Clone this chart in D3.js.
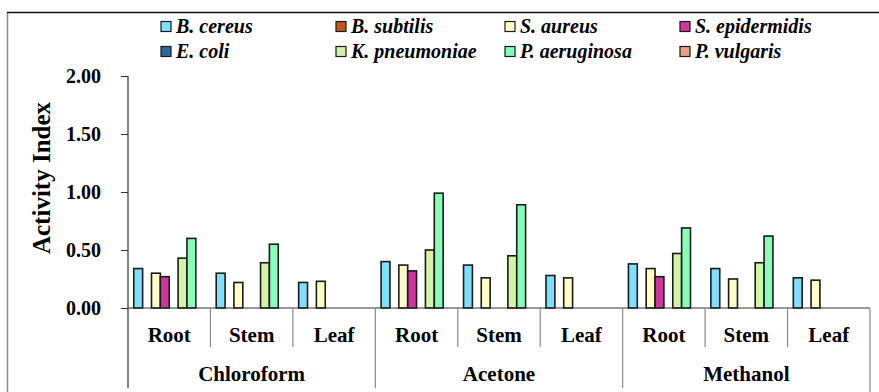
<!DOCTYPE html>
<html>
<head>
<meta charset="utf-8">
<script src="https://cdn.jsdelivr.net/npm/d3@7"></script>
<style>html,body{margin:0;background:#fff}</style>
</head>
<body>
<svg id="chart" width="879" height="392"></svg>
<script>
const solvents = ["Chloroform", "Acetone", "Methanol"];
const parts = ["Root", "Stem", "Leaf"];
const seriesNames = ["B. cereus", "B. subtilis", "S. aureus", "S. epidermidis",
                     "E. coli", "K. pneumoniae", "P. aeruginosa", "P. vulgaris"];
const seriesColors = ["#80DFFF", "#C0561F", "#FFFFC6", "#CF359C",
                      "#2F689E", "#D3F3A8", "#88FDB8", "#E6A082"];
// values per series, ordered Chloroform(Root,Stem,Leaf), Acetone(...), Methanol(...)
const bCereus      = [0.34, 0.30, 0.22, 0.40, 0.37, 0.28, 0.38, 0.34, 0.26];
const bSubtilis    = [0, 0, 0, 0, 0, 0, 0, 0, 0];
const sAureus      = [0.30, 0.22, 0.23, 0.37, 0.26, 0.26, 0.34, 0.25, 0.24];
const sEpidermidis = [0.27, 0, 0, 0.32, 0, 0, 0.27, 0, 0];
const eColi        = [0, 0, 0, 0, 0, 0, 0, 0, 0];
const kPneumoniae  = [0.43, 0.39, 0, 0.50, 0.45, 0, 0.47, 0.39, 0];
const pAeruginosa  = [0.60, 0.55, 0, 0.99, 0.89, 0, 0.69, 0.62, 0];
const pVulgaris    = [0, 0, 0, 0, 0, 0, 0, 0, 0];
const seriesValues = [bCereus, bSubtilis, sAureus, sEpidermidis, eColi, kPneumoniae, pAeruginosa, pVulgaris];
const yTicks = [0, 0.5, 1.0, 1.5, 2.0];
const yTitle = "Activity Index";

const svg = d3.select("#chart");
const plotLeft = 128, plotRight = 870, plotTop = 76, plotBottom = 308;

function serif(sel) {
  return sel.attr("font-family", "Liberation Serif")
    .style("font-family", '"Liberation Serif", "Times New Roman", serif');
}

const slots = [];
solvents.forEach(s => parts.forEach(p => slots.push(s + "|" + p)));

const x0 = d3.scaleBand().domain(slots).range([plotLeft, plotRight]).padding(0);
const xs = d3.scaleBand().domain(solvents).range([plotLeft, plotRight]).padding(0);
const x1 = d3.scaleBand().domain(seriesNames).range([0, x0.bandwidth()])
  .paddingInner(0).paddingOuter(0.65);
const y = d3.scaleLinear().domain([0, 2]).range([plotBottom, plotTop]);

// outer frame
svg.append("line").attr("x1", 7.5).attr("x2", 7.5).attr("y1", 12).attr("y2", 392)
  .attr("stroke", "#888").attr("stroke-width", 1.5);
svg.append("line").attr("x1", 7).attr("x2", 879).attr("y1", 12.5).attr("y2", 12.5)
  .attr("stroke", "#111").attr("stroke-width", 1.5);

// bars
const barData = [];
seriesNames.forEach((name, i) => {
  seriesValues[i].forEach((v, j) => {
    if (v > 0) barData.push({ name, color: seriesColors[i], slot: slots[j], value: v });
  });
});
svg.append("g").selectAll("rect").data(barData).join("rect")
  .attr("x", d => x0(d.slot) + x1(d.name))
  .attr("y", d => y(d.value))
  .attr("width", x1.bandwidth())
  .attr("height", d => y(0) - y(d.value))
  .attr("fill", d => d.color)
  .attr("stroke", "#1a1a1a")
  .attr("stroke-width", 1.6);

// y axis
const yAxis = d3.axisLeft(y).tickValues(yTicks).tickFormat(d3.format(".2f")).tickSize(7).tickPadding(20);
const gy = svg.append("g").attr("transform", `translate(${plotLeft},0)`).call(yAxis);
serif(gy);
gy.select(".domain").remove();
gy.selectAll(".tick line").attr("stroke", "#333");
serif(gy.selectAll(".tick text"))
  .attr("font-weight", "bold").attr("font-size", 20).attr("fill", "#000");
svg.append("line").attr("x1", plotLeft).attr("x2", plotLeft).attr("y1", plotTop).attr("y2", 388)
  .attr("stroke", "#333").attr("stroke-width", 1.2);

// baseline
svg.append("line").attr("x1", plotLeft).attr("x2", plotRight).attr("y1", y(0)).attr("y2", y(0))
  .attr("stroke", "#333").attr("stroke-width", 1.2);

// sub dividers
slots.forEach((s, i) => {
  if (i === 0) return;
  const xx = x0(s);
  const isMajor = i % 3 === 0;
  svg.append("line").attr("x1", xx).attr("x2", xx)
    .attr("y1", y(0)).attr("y2", isMajor ? 388 : 347)
    .attr("stroke", "#888").attr("stroke-width", 1.2);
});
svg.append("line").attr("x1", plotRight).attr("x2", plotRight).attr("y1", y(0)).attr("y2", 392)
  .attr("stroke", "#888").attr("stroke-width", 1.2);

// part labels
serif(svg.append("g").selectAll("text").data(slots).join("text"))
  .attr("x", d => x0(d) + x0.bandwidth() / 2).attr("y", 342)
  .attr("text-anchor", "middle").attr("font-weight", "bold").attr("font-size", 21)
  .text(d => d.split("|")[1]);

// solvent labels
serif(svg.append("g").selectAll("text").data(solvents).join("text"))
  .attr("x", d => xs(d) + xs.bandwidth() / 2).attr("y", 381)
  .attr("text-anchor", "middle").attr("font-weight", "bold").attr("font-size", 21)
  .text(d => d);

// y title
serif(svg.append("g").attr("transform", "translate(50,178) rotate(-90)").append("text"))
  .attr("x", 0).attr("y", 0)
  .attr("text-anchor", "middle").attr("font-weight", "bold").attr("font-size", 25)
  .text(yTitle);

// legend
const legendCols = [161, 336, 505, 680];
const legendRows = [27, 52];
const lg = svg.append("g");
seriesNames.forEach((name, i) => {
  const cx = legendCols[i % 4], cy = legendRows[Math.floor(i / 4)];
  lg.append("rect").attr("x", cx).attr("y", cy - 5.5).attr("width", 10).attr("height", 10)
    .attr("fill", seriesColors[i]).attr("stroke", "#1a1a1a").attr("stroke-width", 1.2);
  serif(lg.append("text"))
    .attr("x", cx + 15).attr("y", cy + 6)
    .attr("font-weight", "bold").attr("font-style", "italic").attr("font-size", 20)
    .text(name);
});
</script>
</body>
</html>
